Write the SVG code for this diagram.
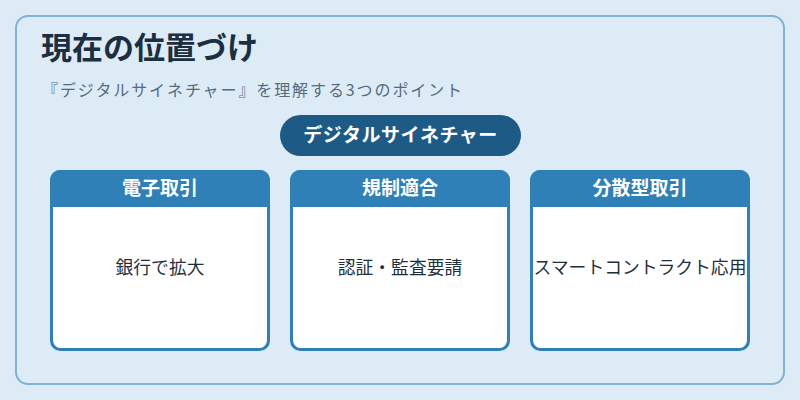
<svg xmlns="http://www.w3.org/2000/svg" width="800" height="400" viewBox="0 0 800 400">
<style>
.bg{fill:#dcebf6}
.frame{fill:#dcebf6;stroke:#7fb2d5;stroke-width:2}
.title{font-family:"Noto Sans CJK JP","Noto Sans",sans-serif;font-size:31px;font-weight:700;fill:#1b2f40}
.sub{font-family:"Noto Sans CJK JP","Noto Sans",sans-serif;font-size:16px;fill:#566b7d;letter-spacing:1.9px}
.pill{fill:#1e5a86}
.pilltext{font-family:"Noto Sans CJK JP","Noto Sans",sans-serif;font-size:19px;font-weight:700;fill:#ffffff;text-anchor:middle;letter-spacing:0.5px}
.card{fill:#ffffff;stroke:#2e80b6;stroke-width:3}
.head{fill:#2e80b6}
.headtext{font-family:"Noto Sans CJK JP","Noto Sans",sans-serif;font-size:19px;font-weight:700;fill:#ffffff;text-anchor:middle}
.body{font-family:"Noto Sans CJK JP","Noto Sans",sans-serif;font-size:17.8px;fill:#1f2f3d;text-anchor:middle}
</style>
<rect class="bg" x="0" y="0" width="800" height="400"/>
<rect class="frame" x="16" y="16" width="768" height="368" rx="12"/>
<text class="title" x="41" y="59">現在の位置づけ</text>
<text class="sub" x="42" y="96">『デジタルサイネチャー』を理解する3つのポイント</text>
<g id="center">
<rect class="pill" x="280" y="115" width="241" height="41" rx="20.5"/>
<text class="pilltext" x="400.5" y="142">デジタルサイネチャー</text>
</g>
<g id="connectors"></g>
<g id="card1">
<rect class="card" x="51.5" y="171.5" width="217" height="178" rx="9"/>
<path class="head" d="M50,207 V180 A10,10 0 0 1 60,170 H260 A10,10 0 0 1 270,180 V207 Z"/>
<text class="headtext" x="160" y="195">電子取引</text>
<text class="body" x="160" y="274">銀行で拡大</text>
</g>
<g id="card2">
<rect class="card" x="291.5" y="171.5" width="217" height="178" rx="9"/>
<path class="head" d="M290,207 V180 A10,10 0 0 1 300,170 H500 A10,10 0 0 1 510,180 V207 Z"/>
<text class="headtext" x="400" y="195">規制適合</text>
<text class="body" x="400" y="274">認証・監査要請</text>
</g>
<g id="card3">
<rect class="card" x="531.5" y="171.5" width="217" height="178" rx="9"/>
<path class="head" d="M530,207 V180 A10,10 0 0 1 540,170 H740 A10,10 0 0 1 750,180 V207 Z"/>
<text class="headtext" x="640" y="195">分散型取引</text>
<text class="body" x="640" y="274">スマートコントラクト応用</text>
</g>
</svg>
